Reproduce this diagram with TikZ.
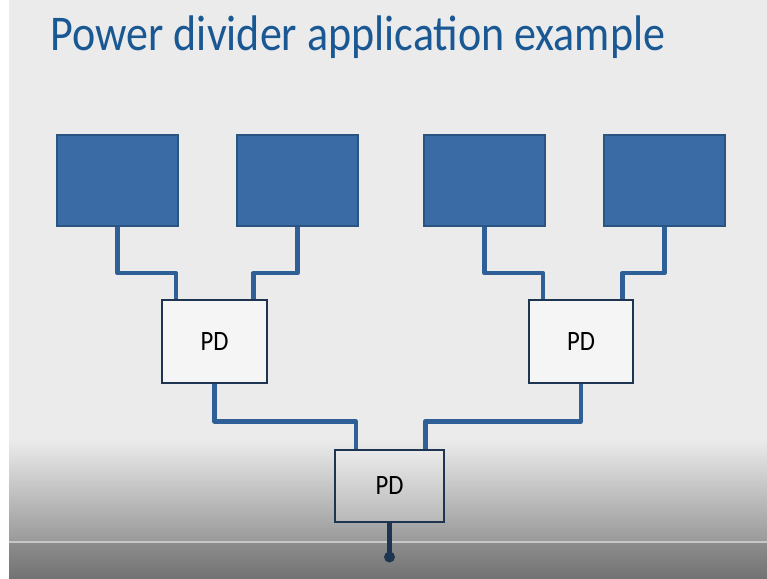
\documentclass[tikz,border=0pt]{standalone}
\usepackage{fontspec}
\setmainfont{Carlito}
\usepackage{tikz}
\usetikzlibrary{positioning}
\definecolor{slidebg}{HTML}{EBEBEB}
\definecolor{titleblue}{HTML}{1A5894}
\definecolor{loadblue}{HTML}{3A6BA5}
\definecolor{loadedge}{HTML}{2A5582}
\definecolor{wireblue}{HTML}{2E5F97}
\definecolor{pdedge}{HTML}{1E3552}
\tikzstyle{load} = [rectangle, minimum width=121pt, minimum height=91pt, inner sep=0pt, draw=loadedge, line width=2pt, fill=loadblue]
\tikzstyle{divider} = [rectangle, minimum width=105pt, minimum height=83pt, inner sep=0pt, draw=pdedge, line width=2.5pt, fill=black!4, font=\fontsize{28}{32}\selectfont]
\tikzstyle{wire} = [line width=4.5pt, draw=wireblue, line join=round]
\newcommand{\narrow}[1]{\scalebox{0.88}[1]{#1}}

\begin{document}
\begin{tikzpicture}[x=1pt, y=-1pt]
  % slide background with the darker band at the bottom
  \useasboundingbox (0,0) rectangle (767,578);
  \fill[white] (0,0) rectangle (767,578);
  \fill[slidebg] (9,0) rectangle (767,578);
  \shade[top color=slidebg, bottom color=black!40] (9,440) rectangle (767,542);
  \fill[black!22] (9,541) rectangle (767,543);
  \shade[top color=black!45, bottom color=black!55] (9,543) rectangle (767,578);

  \node (title) [anchor=base, text=titleblue, font=\fontsize{50}{56}\selectfont] at (358,51) {\narrow{Power divider application example}};

  % loads
  \node (load1) [load] at (117.5,180.5) {};
  \node (load2) [load] at (297.5,180.5) {};
  \node (load3) [load] at (484.5,180.5) {};
  \node (load4) [load] at (664.5,180.5) {};

  % power dividers
  \node (pdl) [divider] at (214.5,341.5) {\narrow{PD}};
  \node (pdr) [divider, minimum width=104pt] at (581,341.5) {\narrow{PD}};
  \node (pdb) [divider, minimum width=109pt, minimum height=72pt, top color=black!8, bottom color=black!28] at (389.5,486) {\narrow{PD}};
  \coordinate (feed) at (389.5,557);

  \draw [wire] (load1.south) -- ++(0,46) -| ([xshift=15pt]pdl.north west);
  \draw [wire] (load2.south) -- ++(0,46) -| ([xshift=-15pt]pdl.north east);
  \draw [wire] (load3.south) -- ++(0,46) -| ([xshift=15pt]pdr.north west);
  \draw [wire] (load4.south) -- ++(0,46) -| ([xshift=-12pt]pdr.north east);
  \draw [wire] (pdl.south) -- ++(0,37) -| ([xshift=22pt]pdb.north west);
  \draw [wire] (pdr.south) -- ++(0,37) -| ([xshift=-20pt]pdb.north east);
  \draw [wire, draw=pdedge] (pdb.south) -- (feed);
  \fill[pdedge] (feed) circle (5.5pt);
\end{tikzpicture}
\end{document}
